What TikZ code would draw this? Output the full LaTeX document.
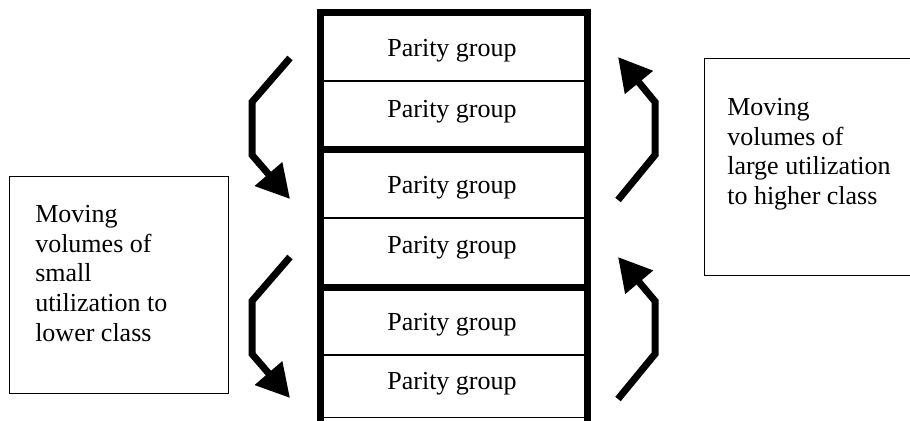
\documentclass[tikz,border=0pt]{standalone}
\usepackage{fontspec}
\setmainfont{Liberation Serif}
\usetikzlibrary{arrows.meta}
\begin{document}
\begin{tikzpicture}[x=0.75pt,y=-0.75pt,
  lbl/.style={font=\fontsize{19.5pt}{22.3pt}\selectfont, inner sep=0pt},
  heavyrule/.style={line width=5.25pt, line cap=rect},
  thinrule/.style={line width=1pt},
  notebox/.style={draw, line width=1.1pt, inner sep=0pt},
  movearrow/.style={line width=5.25pt, line join=miter,
    -{Triangle[length=24.75pt, width=26pt]}}
]
\useasboundingbox (0,0) rectangle (910,421);
% column of parity groups
\coordinate (tl) at (320.5,12);
\coordinate (tr) at (587.5,12);
\coordinate (bl) at (320.5,424);
\coordinate (br) at (587.5,424);
\draw[thinrule] (317,417.5) -- (591,417.5);
\draw[thinrule] (317,81) -- (591,81);
\draw[thinrule] (317,218) -- (591,218);
\draw[thinrule] (317,355) -- (591,355);
\draw[heavyrule] (tl) -- (tr);
\draw[heavyrule] (320.5,149) -- (587.5,149);
\draw[heavyrule] (320.5,287) -- (587.5,287);
\draw[line width=5.25pt] (320.5,8.5) -- (bl);
\draw[line width=5.25pt] (587.5,8.5) -- (br);
\node[lbl, anchor=base] (p1) at (452,56) {Parity group};
\node[lbl, anchor=base] (p2) at (452,117) {Parity group};
\node[lbl, anchor=base] (p3) at (452,193) {Parity group};
\node[lbl, anchor=base] (p4) at (452,253) {Parity group};
\node[lbl, anchor=base] (p5) at (452,330) {Parity group};
\node[lbl, anchor=base] (p6) at (452,389) {Parity group};
% note boxes
\node[notebox, minimum width=164.25pt, minimum height=162.75pt, anchor=north west] (lbox) at (9,176) {};
\node[notebox, minimum width=155.25pt, minimum height=162.75pt, anchor=north west] (rbox) at (704,58) {};
\node[lbl, align=left, anchor=north west] (ltext) at (35,205)
  {Moving\\volumes of\\small\\utilization to\\lower class};
\node[lbl, align=left, anchor=north west] (rtext) at (727,98)
  {Moving\\volumes of\\large utilization\\to higher class};
% arrows
\coordinate (a1s) at (290,58);  \coordinate (a1b) at (252,102);
\coordinate (a1c) at (252,155); \coordinate (a1t) at (290,199);
\coordinate (a2s) at (290,257); \coordinate (a2b) at (252,301);
\coordinate (a2c) at (252,354); \coordinate (a2t) at (290,398);
\coordinate (a3s) at (618,200); \coordinate (a3b) at (655,155);
\coordinate (a3c) at (655,102); \coordinate (a3t) at (618,57);
\coordinate (a4s) at (618,399); \coordinate (a4b) at (655,354);
\coordinate (a4c) at (655,301); \coordinate (a4t) at (618,257);
\draw[movearrow] (a1s) -- (a1b) -- (a1c) -- (a1t);
\draw[movearrow] (a2s) -- (a2b) -- (a2c) -- (a2t);
\draw[movearrow] (a3s) -- (a3b) -- (a3c) -- (a3t);
\draw[movearrow] (a4s) -- (a4b) -- (a4c) -- (a4t);
\end{tikzpicture}
\end{document}
